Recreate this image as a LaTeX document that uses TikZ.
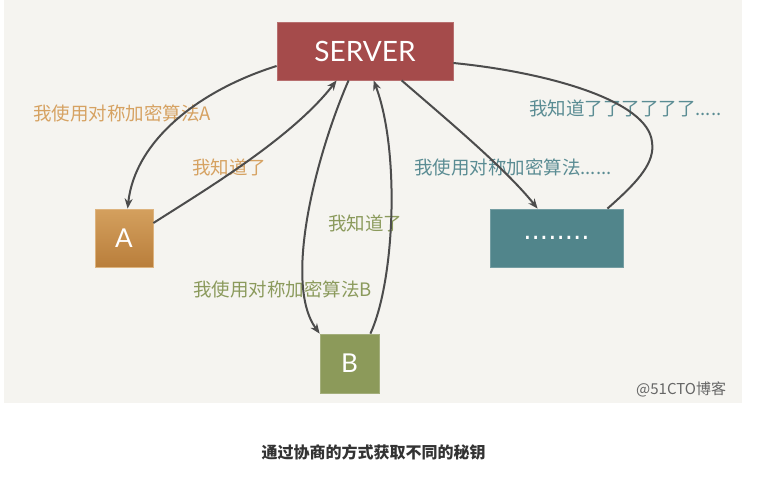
\documentclass[tikz,border=0pt]{standalone}
\usepackage{fontspec}
\setmainfont{Lato}
\newfontfamily\cjk{Noto Sans CJK SC}
\newfontfamily\dejavu{DejaVu Sans}
\usetikzlibrary{arrows.meta,calc}
\definecolor{bgc}{HTML}{F5F4F0}
\definecolor{srvc}{HTML}{A54B4B}
\definecolor{aTop}{HTML}{D4A05E}
\definecolor{aBot}{HTML}{B97E3B}
\definecolor{bc}{HTML}{8C9A5A}
\definecolor{dc}{HTML}{51858B}
\definecolor{orlab}{HTML}{D6A262}
\definecolor{tllab}{HTML}{5A8C93}
\definecolor{grlab}{HTML}{8B9A5C}
\definecolor{linec}{HTML}{4C4C4C}
\definecolor{capc}{HTML}{333333}
\tikzset{
  boxnode/.style={inner sep=0pt, text=white, anchor=center},
  lab/.style={inner sep=0pt, anchor=west, font=\cjk\fontsize{18.5pt}{20pt}\selectfont},
  conn/.style={draw=linec, line width=2pt},
  arr/.style={conn, -{Stealth[length=10pt,width=8pt]}}
}
\begin{document}
\begin{tikzpicture}[x=1pt,y=-1pt]
\useasboundingbox (0,0) rectangle (768,477);
\fill[white] (0,0) rectangle (768,477);
\fill[bgc] (4,0) rectangle (742,403);
% boxes
\node[boxnode, fill=srvc, draw=srvc!80!white, line width=0.8pt, minimum width=176pt, minimum height=58pt,
      font=\fontsize{28pt}{30pt}\selectfont] (S) at (365,51) {SERVER};
\node[boxnode, top color=aTop, bottom color=aBot, draw=aTop!80!white, line width=0.8pt, minimum width=58pt, minimum height=58pt,
      font=\fontsize{26pt}{28pt}\selectfont] (A) at (124,238) {A};
\node[boxnode, fill=bc, draw=bc!80!white, line width=0.8pt, minimum width=59pt, minimum height=59pt,
      font=\fontsize{26pt}{28pt}\selectfont] (B) at (349.5,363.5) {B};
\node[boxnode, fill=dc, draw=dc!80!white, line width=0.8pt, minimum width=133pt, minimum height=58pt,
      font=\dejavu\fontsize{26pt}{28pt}\selectfont] (D) at (556.5,238) {........};
% labels
\node[lab, text=orlab] (L1) at (33,113) {我使用对称加密算法A};
\node[lab, text=orlab] (L2) at (192,167) {我知道了};
\node[lab, text=tllab] (L3) at (529,108) {我知道了了了了了了.....};
\node[lab, text=tllab] (L4) at (414,167) {我使用对称加密算法......};
\node[lab, text=grlab] (L5) at (328,223) {我知道了};
\node[lab, text=grlab] (L6) at (193,289) {我使用对称加密算法B};
\node[inner sep=0pt, anchor=west, text=black!60, font=\cjk\fontsize{15pt}{17pt}\selectfont] (W) at (636,389) {@51CTO博客};
\node[inner sep=0pt, text=capc, font=\cjk\bfseries\fontsize{16pt}{18pt}\selectfont] (C) at (373.5,452) {通过协商的方式获取不同的秘钥};
% connectors
\draw[arr] ([yshift=-15pt]S.west) .. controls (200,90) and (135,140) .. ([xshift=33pt]A.north west);
\draw[arr] ([yshift=15pt]A.east) .. controls (205,190) and (292,138) .. ([xshift=60pt]S.south west);
\draw[arr] ([xshift=72pt]S.south west) .. controls (318,150) and (282,282) .. (B.north west);
\draw[arr] ([xshift=-9pt]B.north east) .. controls (395,280) and (400,150) .. ([xshift=97pt]S.south west);
\draw[arr] ([xshift=125pt]S.south west) .. controls (445,118) and (505,168) .. ([xshift=48pt]D.north west);
\coordinate (M) at (652,142);
\draw[conn] ([xshift=-16pt]D.north east) .. controls (640,180) and (655,162) .. (M)
  .. controls (648,100) and (545,72) .. ([yshift=-12pt]S.east);
\end{tikzpicture}
\end{document}
